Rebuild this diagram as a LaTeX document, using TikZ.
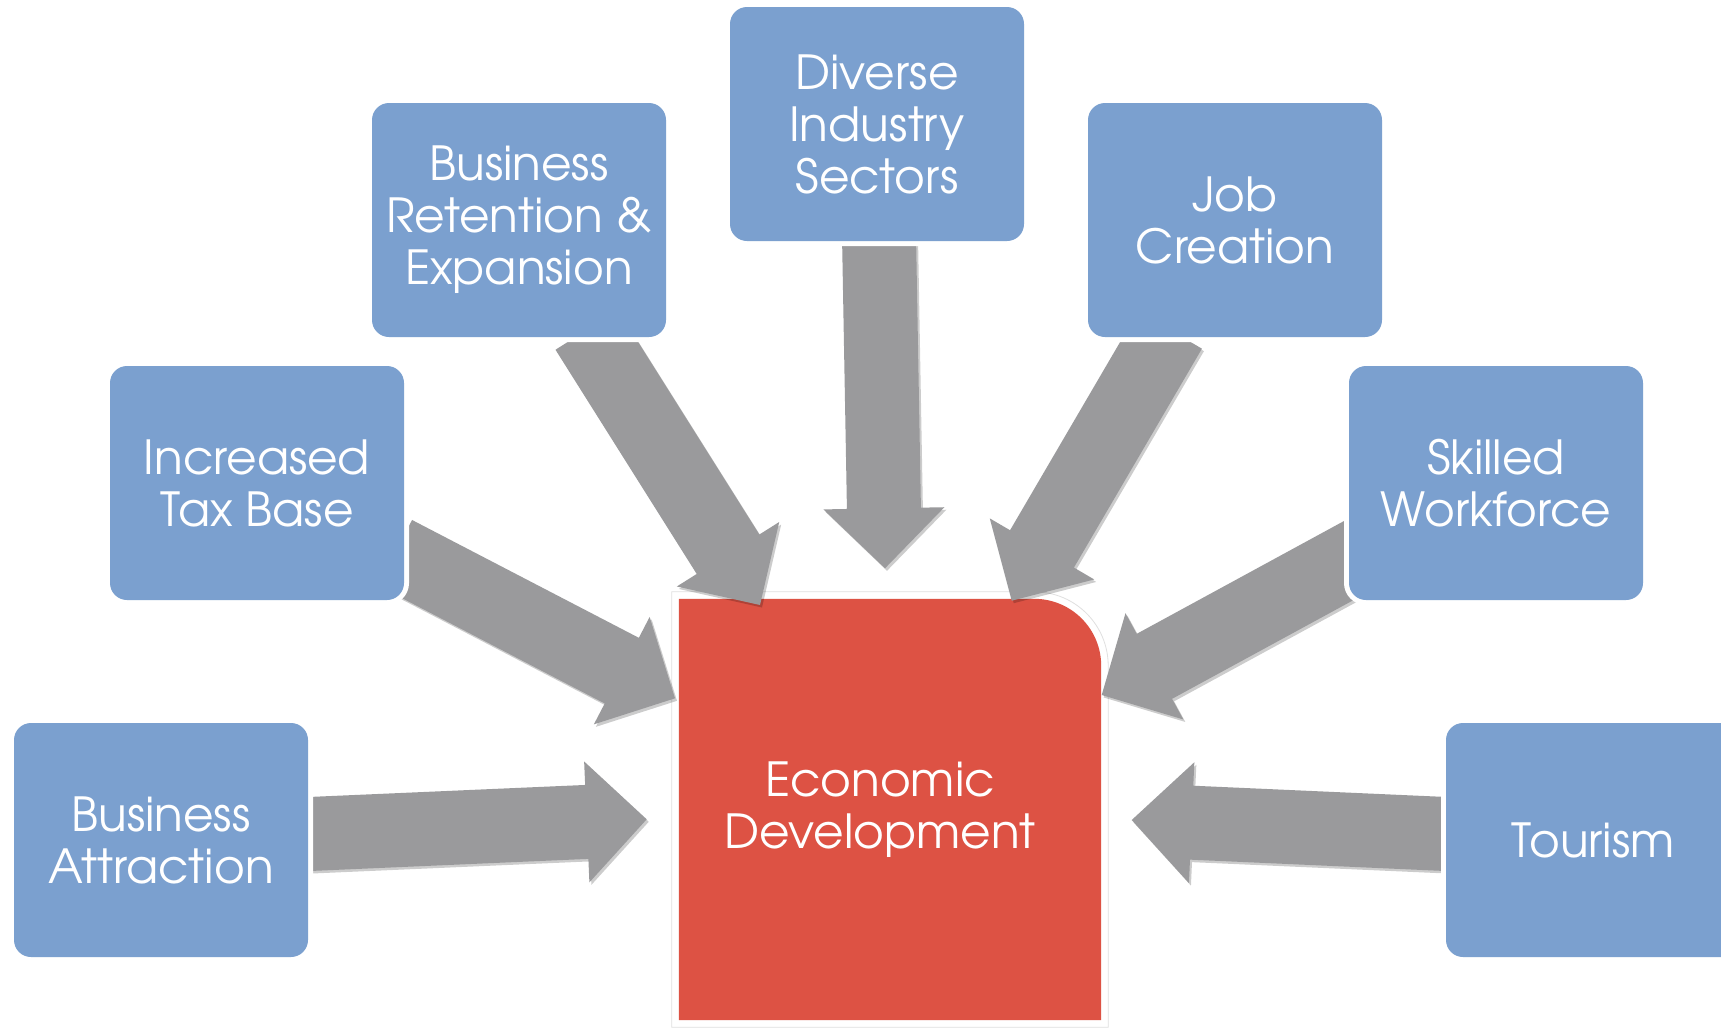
\documentclass[tikz,border=0pt]{standalone}
\usepackage{fontspec}
\newfontfamily\adv{TeX Gyre Adventor}
\usetikzlibrary{calc,shadows}
\definecolor{boxblue}{HTML}{7BA0CF}
\definecolor{edred}{HTML}{DD5244}
\definecolor{arrgray}{HTML}{9A9A9C}
\pgfdeclarelayer{back}
\pgfdeclarelayer{mid}
\pgfsetlayers{back,mid,main}
\tikzset{
  blubox/.style={rectangle, rounded corners=17pt, fill=boxblue, minimum width=294pt,
    minimum height=234pt, inner sep=0pt, align=center, text=white,
    font=\adv\fontsize{47}{52}\selectfont, preaction={draw=white, line width=10pt}},
  edtext/.style={align=center, text=white, inner sep=0pt, font=\adv\fontsize{47}{52}\selectfont},
  blockfill/.style={fill=arrgray, drop shadow={shadow xshift=2pt, shadow yshift=-2.5pt, opacity=0.2, fill=black}}
}
\newcommand\blockarr[2]{%
  \coordinate (neck-#1) at ($(#2)!60pt!(#1)$);
  \path[blockfill]
   ($(#1)!37pt!90:(#2)$) -- ($(neck-#1)!37pt!90:(#2)$) -- ($(neck-#1)!60.5pt!90:(#2)$) -- (#2)
   -- ($(neck-#1)!60.5pt!-90:(#2)$) -- ($(neck-#1)!37pt!-90:(#2)$) -- ($(#1)!37pt!-90:(#2)$) -- cycle;
}
\begin{document}
\begin{tikzpicture}[x=1pt,y=-1pt]
\useasboundingbox (0,0) rectangle (1721,1029);
% central box
\node[minimum width=422pt, minimum height=421pt, inner sep=0pt] (ed) at (890,809.5) {};
\begin{pgfonlayer}{back}
\fill[white] (0,0) rectangle (1721,1029);
\fill[white, draw=black!12, line width=0.8pt]
  ([shift={(-7pt,-7pt)}]ed.south west) -- ([shift={(-7pt,7pt)}]ed.north west)
  -- ([shift={(-67pt,7pt)}]ed.north east)
  .. controls ([shift={(-26pt,7pt)}]ed.north east) and ([shift={(7pt,-26pt)}]ed.north east)
  .. ([shift={(7pt,-67pt)}]ed.north east)
  -- ([shift={(7pt,-7pt)}]ed.south east) -- cycle;
\fill[edred] (ed.south west) -- (ed.north west) -- ([xshift=-67pt]ed.north east)
  .. controls ([xshift=-30pt]ed.north east) and ([yshift=-30pt]ed.north east)
  .. ([yshift=-67pt]ed.north east) -- (ed.south east) -- cycle;
\end{pgfonlayer}
\node[edtext] (edt) at ([shift={(-10pt,0pt)}]ed.center) {Economic\\Development};
% outer boxes
\node[blubox] (ba) at (161,840) {Business\\Attraction};
\node[blubox] (tb) at (257,483) {Increased\\Tax Base};
\node[blubox] (br) at (519,220) {Business\\Retention \&\\Expansion};
\node[blubox] (di) at (877,124) {Diverse\\Industry\\Sectors};
\node[blubox] (jc) at (1235,220) {Job\\Creation};
\node[blubox] (sw) at (1496,483) {Skilled\\Workforce};
\node[blubox] (to) at (1593,840) {Tourism};
% arrow ends
\coordinate (t1) at (300,834.4);   \coordinate (p1) at (646.7,819.3);
\coordinate (t2) at (395,552.8);   \coordinate (p2) at (675,698.3);
\coordinate (t3) at (586.8,330);   \coordinate (p3) at (760,605);
\coordinate (t4) at (879,235);     \coordinate (p4) at (885,568.3);
\coordinate (t5) at (1170,330);    \coordinate (p5) at (1011.7,600.7);
\coordinate (t6) at (1365,551.7);  \coordinate (p6) at (1101.7,695);
\coordinate (t7) at (1455,834.4);  \coordinate (p7) at (1131.7,820);
\begin{pgfonlayer}{mid}
\blockarr{t1}{p1}
\blockarr{t2}{p2}
\blockarr{t3}{p3}
\blockarr{t4}{p4}
\blockarr{t5}{p5}
\blockarr{t6}{p6}
\blockarr{t7}{p7}
\end{pgfonlayer}
\end{tikzpicture}
\end{document}
